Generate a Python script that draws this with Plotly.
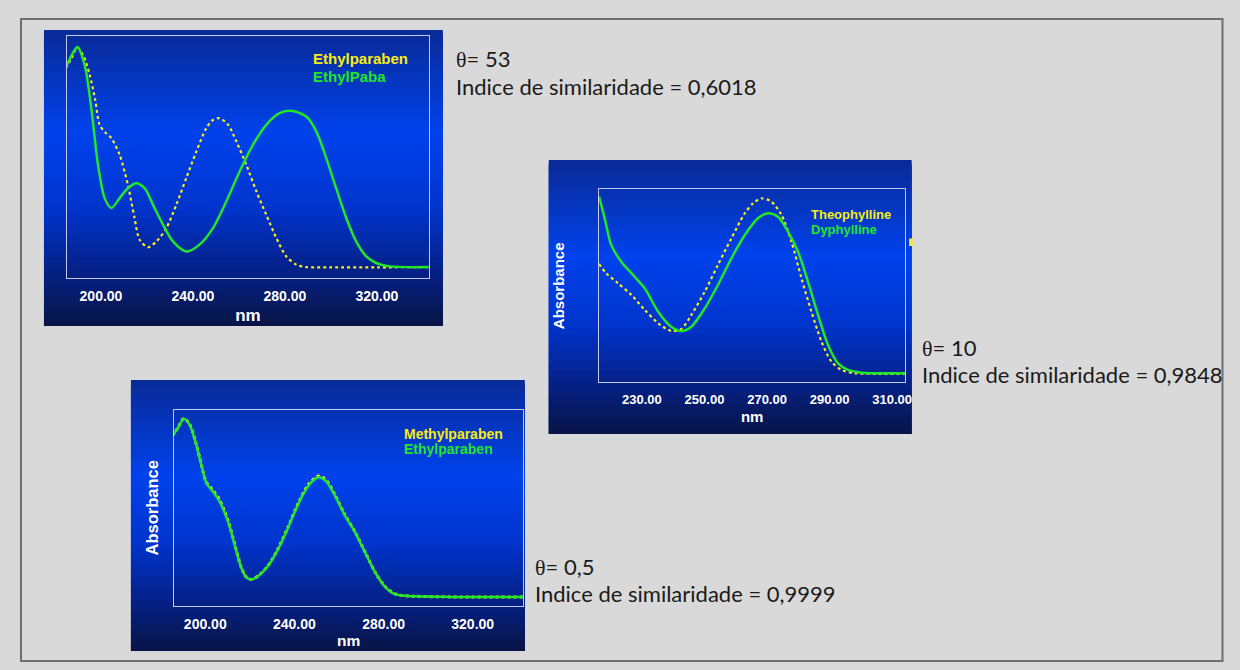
import plotly.graph_objects as go

W, H = 1240, 670
W_EFF = 1233.5  # measured effective rendered width of the paper in the capture

# ---------------- data (normalized absorbance) ----------------
# Panel 1: Ethylparaben vs EthylPaba
p1_ethylparaben_nm = [184.6, 187.0, 189.7, 192.5, 195.1, 197.5, 199.4, 202.0, 204.5, 208.1, 211.7, 214.6, 216.8,
                      220.4, 224.1, 228.4, 232.8, 237.1, 241.5, 245.8, 248.7, 251.6, 255.3, 258.9, 263.2, 267.6,
                      271.9, 276.3, 280.6, 285.0, 289.3, 300.0, 320.0, 342.6]
p1_ethylparaben_abs = [0.867, 0.905, 0.952, 0.915, 0.839, 0.735, 0.633, 0.600, 0.578, 0.509, 0.385, 0.248, 0.158,
                       0.127, 0.151, 0.206, 0.303, 0.413, 0.523, 0.619, 0.653, 0.660, 0.633, 0.564, 0.468, 0.358,
                       0.261, 0.165, 0.089, 0.055, 0.045, 0.044, 0.044, 0.045]
p1_ethylpaba_nm = [185.2, 187.5, 189.7, 192.9, 195.8, 198.7, 201.6, 204.5, 208.1, 211.7, 215.4, 219.0, 222.6, 227.0,
                   231.3, 237.1, 242.9, 248.7, 254.5, 260.3, 266.1, 271.9, 277.7, 283.5, 289.3, 293.7, 298.0,
                   302.3, 306.7, 311.0, 315.4, 319.7, 325.5, 342.6]
p1_ethylpaba_abs = [0.880, 0.925, 0.955, 0.880, 0.701, 0.468, 0.330, 0.289, 0.330, 0.371, 0.392, 0.371, 0.303, 0.220,
                    0.151, 0.110, 0.138, 0.206, 0.316, 0.440, 0.550, 0.633, 0.681, 0.690, 0.667, 0.605, 0.495,
                    0.371, 0.248, 0.151, 0.089, 0.062, 0.048, 0.045]

# Panel 2: Theophylline vs Dyphylline
p2_theophylline_nm = [216.3, 218.6, 222.4, 226.6, 230.9, 235.2, 239.4, 242.6, 245.8, 250.1, 254.3, 258.6, 262.9,
                      265.5, 268.2, 271.4, 274.6, 277.8, 281.0, 284.2, 287.4, 290.6, 293.8, 298.0, 305.0, 314.2]
p2_theophylline_abs = [0.613, 0.565, 0.513, 0.453, 0.375, 0.306, 0.266, 0.276, 0.349, 0.470, 0.608, 0.746, 0.876,
                       0.927, 0.953, 0.936, 0.867, 0.729, 0.539, 0.366, 0.211, 0.107, 0.064, 0.047, 0.044, 0.043]
p2_dyphylline_nm = [216.3, 218.1, 220.2, 223.4, 227.7, 230.9, 235.2, 239.4, 242.6, 245.8, 250.1, 254.3, 258.6,
                    262.9, 267.1, 270.3, 273.5, 276.7, 279.9, 283.1, 286.3, 289.5, 292.7, 295.9, 300.2, 314.2]
p2_dyphylline_abs = [0.962, 0.850, 0.712, 0.625, 0.547, 0.487, 0.366, 0.288, 0.266, 0.288, 0.383, 0.504, 0.642,
                     0.763, 0.850, 0.876, 0.858, 0.781, 0.677, 0.522, 0.349, 0.193, 0.098, 0.064, 0.050, 0.047]

# Panel 3: Methylparaben vs Ethylparaben
p3_nm = [185.2, 187.7, 190.4, 193.0, 196.0, 198.2, 200.5, 203.4, 206.4, 210.2, 213.2, 216.2, 218.4, 220.7, 223.6,
         228.1, 232.6, 237.1, 241.6, 246.1, 249.8, 251.3, 254.3, 258.0, 262.5, 267.0, 271.5, 276.0, 280.5, 284.9,
         289.4, 310.0, 342.8]
p3_methylparaben_abs = [0.866, 0.908, 0.956, 0.925, 0.823, 0.722, 0.630, 0.590, 0.540, 0.436, 0.314, 0.194, 0.146,
                        0.134, 0.151, 0.203, 0.289, 0.400, 0.520, 0.615, 0.657, 0.662, 0.640, 0.570, 0.467, 0.381,
                        0.279, 0.176, 0.100, 0.061, 0.051, 0.045, 0.044]
p3_ethylparaben_abs = [0.864, 0.906, 0.954, 0.923, 0.821, 0.719, 0.626, 0.583, 0.532, 0.430, 0.311, 0.192, 0.145,
                       0.133, 0.150, 0.201, 0.286, 0.396, 0.515, 0.609, 0.651, 0.655, 0.634, 0.566, 0.464, 0.379,
                       0.277, 0.175, 0.099, 0.060, 0.051, 0.045, 0.044]

p1_ticks = [200, 240, 280, 320]
p2_ticks = [230, 250, 270, 290, 310]
p3_ticks = [200, 240, 280, 320]

YELLOW = "#f8ec10"
GREEN = "#22e628"


def px(x):
    return x / W_EFF


def py(y):
    return 1 - y / H


fig = go.Figure()

fig.add_trace(go.Scatter(x=p1_ethylparaben_nm, y=p1_ethylparaben_abs, mode="lines", line=dict(color=YELLOW, width=2.2, dash="dot", shape="spline", smoothing=0.8), xaxis="x", yaxis="y", showlegend=False))
fig.add_trace(go.Scatter(x=p1_ethylpaba_nm, y=p1_ethylpaba_abs, mode="lines", line=dict(color=GREEN, width=2.5, shape="spline", smoothing=0.8), xaxis="x", yaxis="y", showlegend=False))
fig.add_trace(go.Scatter(x=p2_theophylline_nm, y=p2_theophylline_abs, mode="lines", line=dict(color=YELLOW, width=2.2, dash="dot", shape="spline", smoothing=0.8), xaxis="x2", yaxis="y2", showlegend=False))
fig.add_trace(go.Scatter(x=p2_dyphylline_nm, y=p2_dyphylline_abs, mode="lines", line=dict(color=GREEN, width=2.5, shape="spline", smoothing=0.8), xaxis="x2", yaxis="y2", showlegend=False))
fig.add_trace(go.Scatter(x=p3_nm, y=p3_methylparaben_abs, mode="lines", line=dict(color=YELLOW, width=3, dash="dot", shape="spline", smoothing=0.8), xaxis="x3", yaxis="y3", showlegend=False))
fig.add_trace(go.Scatter(x=p3_nm, y=p3_ethylparaben_abs, mode="lines", line=dict(color=GREEN, width=2.5, shape="spline", smoothing=0.8), xaxis="x3", yaxis="y3", showlegend=False))

panels = [
    dict(bg=(44, 30, 443, 326), frame=(67, 36, 429, 278), rng=[185.2, 342.6], ticks=p1_ticks, ytitle=None,
         tick_size=14, nm_size=17, nm_standoff=6, abs_size=15),
    dict(bg=(549, 160, 912, 434), frame=(599.3, 189.3, 905.7, 382.3), rng=[216.3, 314.2], ticks=p2_ticks, ytitle=29,
         tick_size=13, nm_size=15, nm_standoff=5, abs_size=15),
    dict(bg=(131, 380, 525, 651), frame=(173.7, 409.7, 523.7, 605.7), rng=[185.8, 342.8], ticks=p3_ticks, ytitle=9,
         tick_size=14, nm_size=15.5, nm_standoff=4, abs_size=16.5),
]

stops = [(0.0, (10, 42, 150)), (0.35, (0, 66, 236)), (0.6, (0, 52, 205)), (0.8, (5, 34, 140)), (1.0, (8, 20, 70))]


def grad(t):
    for i in range(len(stops) - 1):
        a, ca = stops[i]
        b, cb = stops[i + 1]
        if a <= t <= b:
            f = (t - a) / (b - a)
            return "rgb(%d,%d,%d)" % tuple(round(ca[k] + (cb[k] - ca[k]) * f) for k in range(3))
    return "rgb(%d,%d,%d)" % stops[-1][1]


shapes = []
N = 90
for p in panels:
    x0, y0, x1, y1 = p["bg"]
    h = (y1 - y0) / N
    for i in range(N):
        ya = y0 + i * h
        yb = min(ya + 3 * h, y1)
        shapes.append(dict(type="rect", xref="paper", yref="paper", x0=px(x0), x1=px(x1), y0=py(yb), y1=py(ya),
                           fillcolor=grad((i + 0.5) / N), line=dict(width=0), layer="below"))

shapes.append(dict(type="rect", xref="paper", yref="paper", x0=px(21), x1=px(1223), y0=py(661), y1=py(19),
                   line=dict(color="#6f6f6f", width=2), fillcolor="rgba(0,0,0,0)", layer="below"))
shapes.append(dict(type="rect", xref="paper", yref="paper", x0=px(909.5), x1=px(913), y0=py(246), y1=py(238.5),
                   fillcolor=YELLOW, line=dict(width=0), layer="above"))

layout = dict(
    width=W, height=H, margin=dict(l=0, r=0, t=0, b=0, pad=0),
    paper_bgcolor="#d9d9d9", plot_bgcolor="rgba(0,0,0,0)",
    shapes=shapes, showlegend=False,
)

FONT = "Liberation Sans, Arial"

for i, p in enumerate(panels):
    sfx = "" if i == 0 else str(i + 1)
    fx0, fy0, fx1, fy1 = p["frame"]
    layout["xaxis" + sfx] = dict(
        domain=[px(fx0), px(fx1)], range=p["rng"], anchor="y" + sfx,
        showgrid=False, zeroline=False, showline=True, mirror=True, linecolor="#c4cbec", linewidth=1,
        tickvals=p["ticks"], ticktext=["<b>%.2f</b>" % t for t in p["ticks"]], ticks="",
        tickfont=dict(family=FONT, size=p["tick_size"], color="white"), ticklabelstandoff=5,
        title=dict(text="<b>nm</b>", font=dict(family=FONT, size=p["nm_size"], color="white"), standoff=p["nm_standoff"]),
    )
    ya = dict(
        domain=[py(fy1), py(fy0)], range=[0, 1], anchor="x" + sfx,
        showgrid=False, zeroline=False, showline=True, mirror=True, linecolor="#c4cbec", linewidth=1,
        showticklabels=False, ticks="",
    )
    if p["ytitle"] is not None:
        ya["title"] = dict(text="<b>Absorbance</b>", font=dict(family=FONT, size=p["abs_size"], color="white"),
                           standoff=p["ytitle"])
    layout["yaxis" + sfx] = ya

fig.update_layout(**layout)

legends = [
    ("Ethylparaben", YELLOW, 311, 58, 15), ("EthylPaba", GREEN, 311, 76, 15),
    ("Theophylline", YELLOW, 809, 214, 13), ("Dyphylline", GREEN, 809, 229, 13),
    ("Methylparaben", YELLOW, 402, 434, 14), ("Ethylparaben", GREEN, 402, 449, 14),
]
for txt, col, x, y, s in legends:
    fig.add_annotation(x=px(x), y=py(y), xref="paper", yref="paper", text="<b>%s</b>" % txt, showarrow=False,
                       xanchor="left", yanchor="middle", font=dict(family=FONT, size=s, color=col))

info_font = dict(family="Lato, Open Sans", size=22, color="#1a1a1a")
TH = "<span style='font-family:Liberation Serif'>θ</span>"
infos = [
    (TH + "= 53", 454, 58), ("Indice de similaridade = 0,6018", 454, 87),
    (TH + "= 10", 920, 347), ("Indice de similaridade = 0,9848", 920, 375),
    (TH + "= 0,5", 533, 566), ("Indice de similaridade = 0,9999", 533, 593),
]
for txt, x, y in infos:
    fig.add_annotation(x=px(x), y=py(y), xref="paper", yref="paper", text=txt, showarrow=False,
                       xanchor="left", yanchor="middle", font=info_font)

fig.write_html("out.html")
